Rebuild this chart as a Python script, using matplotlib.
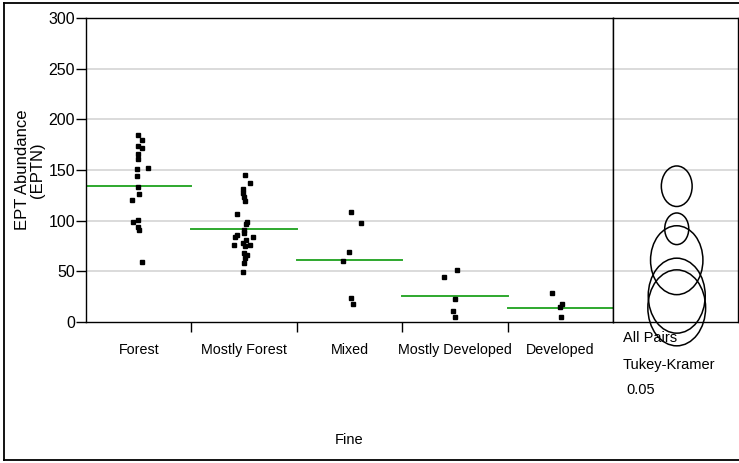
import matplotlib
matplotlib.use('Agg')
from matplotlib import pyplot as plt
from matplotlib.patches import Ellipse
from matplotlib.lines import Line2D

plt.rcParams['font.family'] = ['Liberation Sans', 'DejaVu Sans']

# groups
categories = ['Forest', 'Mostly Forest', 'Mixed', 'Mostly Developed', 'Developed']

# EPT abundance, with the horizontal jitter of each point
forest = [185, 180, 174, 172, 166, 160.5, 152, 150.7, 144.4, 133, 126, 120,
          100.6, 99, 94, 90.8, 59.5]
forest_jit = [-0.004, 0.028, -0.009, 0.031, -0.007, -0.007, 0.088, -0.019,
              -0.019, -0.004, 0.006, -0.066, -0.004, -0.051, -0.004, 0.006, 0.028]
mostly_forest = [145, 137.5, 131, 127, 123.7, 119.4, 107, 99, 96.4, 90.8, 85.9,
                 83.9, 83.6, 87.5, 81, 78, 76, 76, 75, 67.8, 66, 62.8, 58, 49.6]
mostly_forest_jit = [0.009, 0.056, -0.013, -0.008, 0.0, 0.009, -0.070, 0.030,
                     0.018, 0.0, -0.070, 0.082, -0.086, 0.0, 0.018, -0.013,
                     -0.096, 0.056, 0.006, 0.0, 0.025, 0.009, 0.0, -0.008]
mixed = [108.6, 97.4, 69.4, 59.9, 24, 17.4]
mixed_jit = [0.011, 0.106, -0.002, -0.059, 0.011, 0.036]
mostly_dev = [51.3, 44.7, 22.4, 11.2, 4.6]
mostly_dev_jit = [0.017, -0.103, 0.001, -0.021, 0.001]
developed = [29, 15.1, 17.8, 4.6]
developed_jit = [-0.076, -0.006, 0.02, 0.007]

groups = [forest, mostly_forest, mixed, mostly_dev, developed]
jitters = [forest_jit, mostly_forest_jit, mixed_jit, mostly_dev_jit, developed_jit]

# group means and comparison circle radii (Tukey-Kramer)
means = [134, 92, 61, 26, 14]
radii = [20, 15.6, 34, 37, 37.5]

fig = plt.figure(figsize=(7.39, 4.63), dpi=100)
ax = fig.add_axes([0.1164, 0.3045, 0.7131, 0.6566])
cx = fig.add_axes([0.8295, 0.3045, 0.1691, 0.6566], sharey=ax)

grid_col = '#d8d8d8'
for a in (ax, cx):
    for v in [50, 100, 150, 200, 250]:
        a.axhline(v, color=grid_col, lw=1.3, zorder=0)
    for s in a.spines.values():
        s.set_linewidth(1.0)
        s.set_color('black')

for i, vals in enumerate(groups):
    xs = [i + j for j in jitters[i]]
    ax.plot(xs, vals, 's', color='black', ms=3.2, mec='black', zorder=3)
    ax.plot([i - 0.5, i + 0.5], [means[i], means[i]], color='#2ea82e', lw=1.4, zorder=2)

ax.set_xlim(-0.5, 4.5)
ax.set_ylim(0, 300)
ax.set_yticks([0, 50, 100, 150, 200, 250, 300])
ax.set_xticks([0.5, 1.5, 2.5, 3.5])
ax.set_xticklabels([])
ax.set_xticks(range(5), minor=True)
ax.set_xticklabels(categories, minor=True, fontsize=10.3)
ax.tick_params(axis='x', which='major', length=7, width=1, direction='out')
ax.tick_params(axis='x', which='minor', length=0, pad=15)
ax.tick_params(axis='y', length=7, width=1, labelsize=11.5, pad=1)
ax.set_ylabel('EPT Abundance\n(EPTN)', fontsize=12, linespacing=1.0, va='center')
ax.yaxis.set_label_coords(-0.107, 0.5)
ax.set_xlabel('Fine', fontsize=10.5, va='center')
ax.xaxis.set_label_coords(0.5, -0.388)

# comparison circles panel
cx.set_xlim(0, 1)
cx.tick_params(left=False, labelleft=False, bottom=False, labelbottom=False)
fig.canvas.draw()
px_per_x = cx.get_window_extent().width / 1.0
px_per_y = cx.get_window_extent().height / 300.0
for m, r in zip(means, radii):
    w = 2 * r * px_per_y * 0.76 / px_per_x
    e = Ellipse((0.51, m), w, 2 * r, fill=False, ec='black', lw=1.1, clip_on=False, zorder=3)
    cx.add_patch(e)

fig.text(0.843, 0.270, 'All Pairs', fontsize=10.5, va='center', ha='left')
fig.text(0.843, 0.2117, 'Tukey-Kramer', fontsize=10.5, va='center', ha='left')
fig.text(0.848, 0.158, '0.05', fontsize=10.5, va='center', ha='left')

# outer frame
frame_kw = dict(color='black', lw=1.3, transform=fig.transFigure)
fig.add_artist(Line2D([0.0054, 0.0054], [0.0065, 0.9935], **frame_kw))
fig.add_artist(Line2D([0.0054, 1.0], [0.9935, 0.9935], **frame_kw))
fig.add_artist(Line2D([0.0054, 1.0], [0.0065, 0.0065], **frame_kw))

fig.savefig('out.png', dpi=100)
